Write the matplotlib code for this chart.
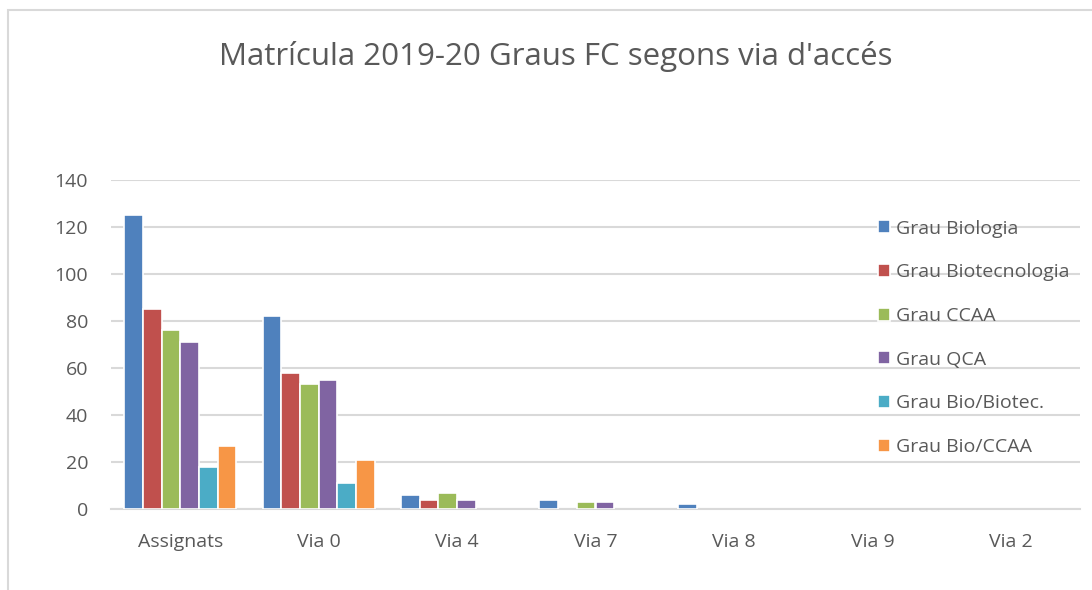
import numpy as np
import matplotlib.pyplot as plt
from matplotlib.patches import Rectangle

plt.rcParams['font.family'] = ['Open Sans', 'DejaVu Sans']

categories = ['Assignats', 'Via 0', 'Via 4', 'Via 7', 'Via 8', 'Via 9', 'Via 2']
series = ['Grau Biologia', 'Grau Biotecnologia', 'Grau CCAA', 'Grau QCA',
          'Grau Bio/Biotec.', 'Grau Bio/CCAA']
biologia = [125, 82, 6, 4, 2, 0, 0]
biotecnologia = [85, 58, 4, 0, 0, 0, 0]
ccaa = [76, 53, 7, 3, 0, 0, 0]
qca = [71, 55, 4, 3, 0, 0, 0]
bio_biotec = [18, 11, 0, 0, 0, 0, 0]
bio_ccaa = [27, 21, 0, 0, 0, 0, 0]
values = [biologia, biotecnologia, ccaa, qca, bio_biotec, bio_ccaa]
colors = ['#4F81BD', '#C0504D', '#9BBB59', '#8064A2', '#4BACC6', '#F79646']

fig = plt.figure(figsize=(10.92, 5.90), dpi=100)
ax = fig.add_axes([111/1092, 1 - 509/590, 969/1092, 329/590])

x = np.arange(len(categories))
slot = 0.135
for i, (name, vals) in enumerate(zip(series, values)):
    v = np.array(vals, dtype=float)
    v[v == 0] = np.nan  # empty cells draw nothing
    ax.bar(x + (i - 2.5) * slot, v, width=slot, color=colors[i],
           edgecolor='white', linewidth=1.2, label=name, zorder=3)

ax.set_xlim(-0.5, len(categories) - 0.5)
ax.set_ylim(0, 140)
ax.set_yticks(range(0, 141, 20))
ax.set_xticks(x)
ax.set_xticklabels(categories)
ax.yaxis.grid(True, color='#D9D9D9', linewidth=1.5, zorder=0)
ax.set_axisbelow(True)
for s in ['top', 'right', 'left']:
    ax.spines[s].set_visible(False)
ax.spines['bottom'].set_color('#D9D9D9')
ax.spines['bottom'].set_linewidth(1.5)
ax.tick_params(axis='both', length=0, colors='#595959', labelsize=14)
ax.tick_params(axis='y', pad=16.5)
ax.tick_params(axis='x', pad=17)

leg = ax.legend(loc='upper left', bbox_to_anchor=(870/1092, 1 - 212/590),
                bbox_transform=fig.transFigure, frameon=False,
                handlelength=0.65, handleheight=0.65, handletextpad=0.3,
                labelspacing=1.32, fontsize=14, borderaxespad=0)
for t in leg.get_texts():
    t.set_color('#595959')

fig.text(556/1092, 1 - 56/590, "Matrícula 2019-20 Graus FC segons via d'accés",
         ha='center', va='center', fontsize=22.5, color='#595959')

# outer chart frame
fig.patches.append(Rectangle((8/1092, -0.05), 1.2, 1 - 10/590 + 0.05,
                             transform=fig.transFigure, fill=False,
                             edgecolor='#D9D9D9', linewidth=1.5))

fig.savefig('out.png', dpi=100)
